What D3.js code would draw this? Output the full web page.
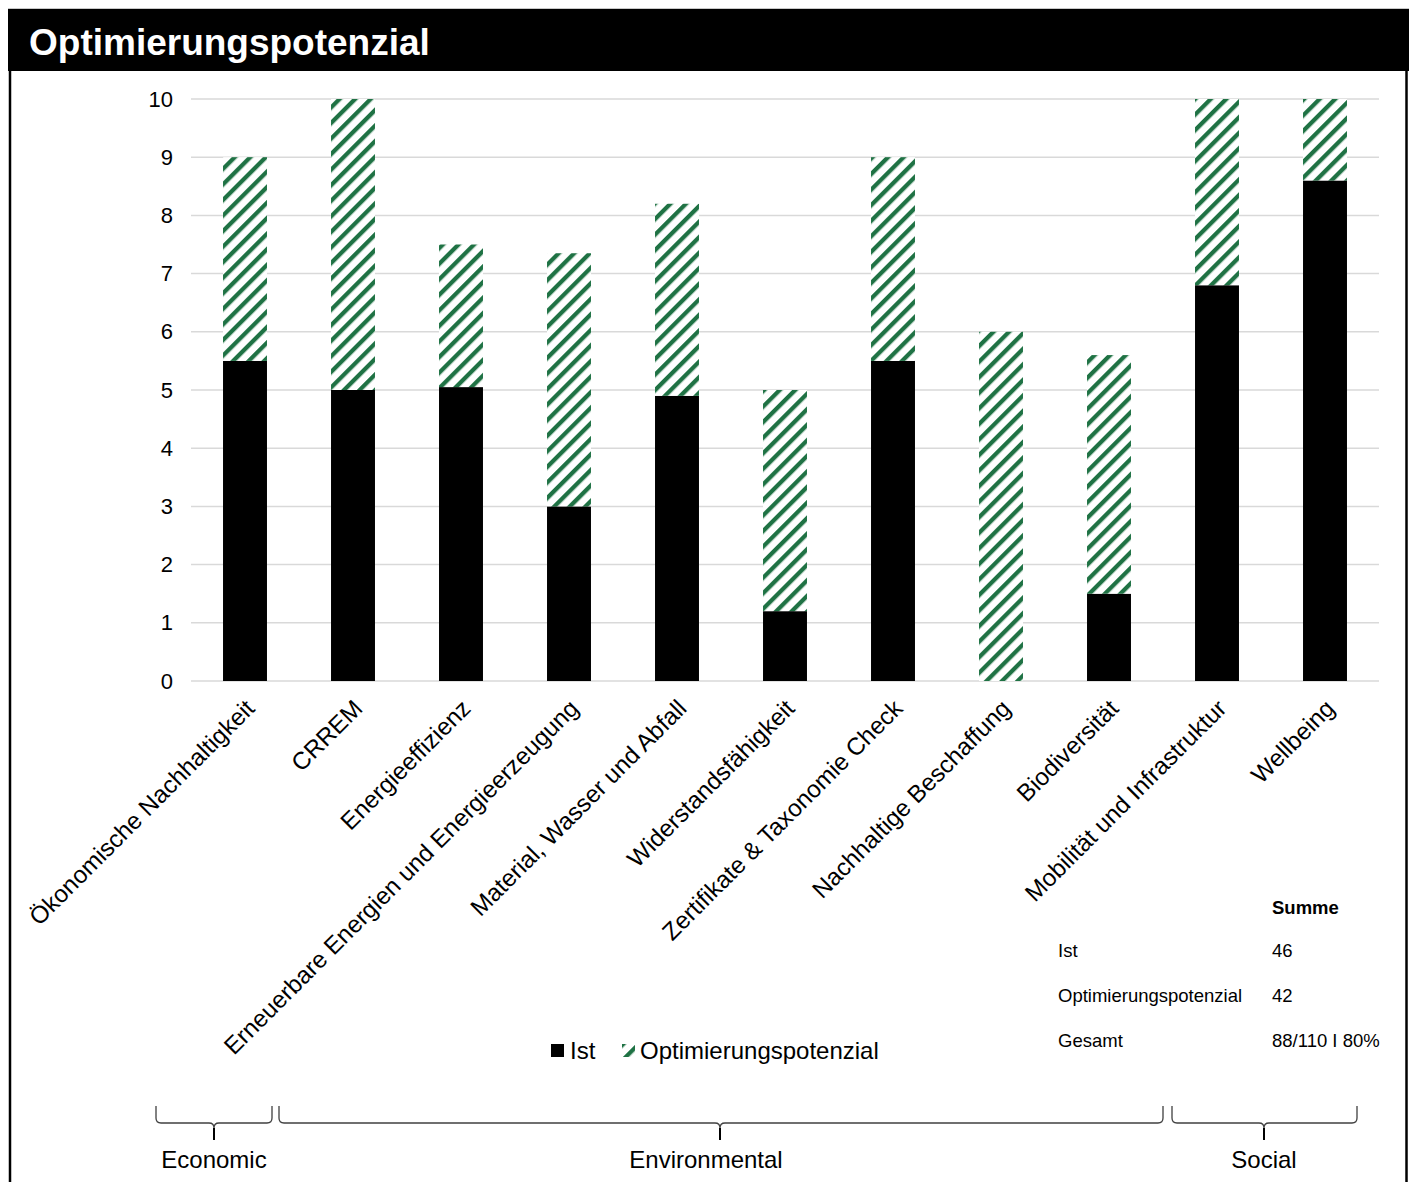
<!DOCTYPE html>
<html>
<head>
<meta charset="utf-8">
<script src="https://cdn.jsdelivr.net/npm/d3@7"></script>
<style>
  html, body { margin: 0; padding: 0; background: #fff; }
  svg { display: block; font-family: "Liberation Sans", Arial, sans-serif; }
</style>
</head>
<body>
<svg id="chart" width="1409" height="1182"></svg>
<script>
// Categories and stacked values (Ist + remaining potential up to the target)
const categories = [
  "Ökonomische Nachhaltigkeit", "CRREM", "Energieeffizienz",
  "Erneuerbare Energien und Energieerzeugung", "Material, Wasser und Abfall",
  "Widerstandsfähigkeit", "Zertifikate & Taxonomie Check", "Nachhaltige Beschaffung",
  "Biodiversität", "Mobilität und Infrastruktur", "Wellbeing"
];
const istValues = [5.5, 5, 5.05, 3, 4.9, 1.2, 5.5, 0, 1.5, 6.8, 8.6];
const optValues = [3.5, 5, 2.45, 4.35, 3.3, 3.8, 3.5, 6, 4.1, 3.2, 1.4];
const yTicks = [0, 1, 2, 3, 4, 5, 6, 7, 8, 9, 10];
const seriesNames = ["Ist", "Optimierungspotenzial"];

// ESG groups over the category axis
const groupNames = ["Economic", "Environmental", "Social"];

// Summary table
const summaryHeader = "Summe";
const summaryLabels = ["Ist", "Optimierungspotenzial", "Gesamt"];
const summaryValues = ["46", "42", "88/110 I 80%"];

const GREEN = "#1f7244";
const svg = d3.select("#chart");

// Frame and title bar
svg.append("rect").attr("x", 8).attr("y", 9).attr("width", 1401).attr("height", 62).attr("fill", "#000");
svg.append("line").attr("x1", 8).attr("x2", 1409).attr("y1", 8.5).attr("y2", 8.5).attr("stroke", "#c8c8c8").attr("stroke-width", 1);
svg.append("line").attr("x1", 10).attr("x2", 10).attr("y1", 71).attr("y2", 1182).attr("stroke", "#000").attr("stroke-width", 2.5);
svg.append("line").attr("x1", 1406.5).attr("x2", 1406.5).attr("y1", 71).attr("y2", 1182).attr("stroke", "#000").attr("stroke-width", 2.5);
svg.append("text").attr("x", 29).attr("y", 55).attr("fill", "#fff")
  .attr("font-size", 37).attr("font-weight", "bold").text("Optimierungspotenzial");

// Hatch pattern for the potential
const defs = svg.append("defs");
const pat = defs.append("pattern").attr("id", "hatch")
  .attr("patternUnits", "userSpaceOnUse").attr("width", 11).attr("height", 11)
  .attr("patternTransform", "rotate(45)");
pat.append("rect").attr("width", 11).attr("height", 11).attr("fill", "#fff");
pat.append("rect").attr("x", 0).attr("width", 4.3).attr("height", 11).attr("fill", GREEN);

// Scales
const plot = { left: 191, right: 1379, top: 99, bottom: 681 };
const x = d3.scaleBand().domain(categories).range([plot.left, plot.right]).paddingInner(0.593).paddingOuter(0.2965);
const y = d3.scaleLinear().domain([0, 10]).range([plot.bottom, plot.top]);

// Gridlines
svg.append("g").selectAll("line").data(yTicks).join("line")
  .attr("x1", plot.left).attr("x2", plot.right)
  .attr("y1", d => y(d)).attr("y2", d => y(d))
  .attr("stroke", "#d9d9d9").attr("stroke-width", 1.5);

// Y axis labels
const yAxis = d3.axisLeft(y).tickValues(yTicks).tickSize(0).tickPadding(18).tickFormat(d3.format("d"));
const gy = svg.append("g").attr("transform", `translate(${plot.left},0)`).call(yAxis);
gy.select(".domain").remove();
gy.selectAll("text").attr("font-size", 22).attr("fill", "#000")
  .attr("font-family", "'Liberation Sans', Arial, sans-serif");

// Stacked bars
const rows = categories.map((c, i) => ({ cat: c, ist: istValues[i], opt: optValues[i] }));
const stacked = d3.stack().keys(["ist", "opt"])(rows);
const fills = { ist: "#000", opt: "url(#hatch)" };
svg.append("g").selectAll("g").data(stacked).join("g")
  .attr("fill", d => fills[d.key])
  .selectAll("rect").data(d => d).join("rect")
  .attr("x", d => x(d.data.cat))
  .attr("width", x.bandwidth())
  .attr("y", d => y(d[1]))
  .attr("height", d => y(d[0]) - y(d[1]));

// Category labels, rotated
const xAxis = d3.axisBottom(x).tickSize(0).tickPadding(0);
const gx = svg.append("g").attr("transform", `translate(0,${plot.bottom})`).call(xAxis);
gx.select(".domain").remove();
gx.selectAll("text")
  .attr("font-size", 24.2).attr("fill", "#000")
  .attr("font-family", "'Liberation Sans', Arial, sans-serif")
  .attr("text-anchor", "end")
  .attr("transform", "translate(5,23) rotate(-45)")
  .attr("x", 0).attr("y", 0).attr("dy", "0.35em");

// Legend
const legend = svg.append("g").attr("transform", "translate(551,1051)");
legend.append("rect").attr("x", 0).attr("y", -7).attr("width", 13).attr("height", 13).attr("fill", "#000");
legend.append("text").attr("x", 19).attr("y", 0).attr("dy", "0.35em").attr("font-size", 24).text(seriesNames[0]);
legend.append("rect").attr("x", 71).attr("y", -7).attr("width", 13).attr("height", 13).attr("fill", "url(#hatch)");
legend.append("text").attr("x", 89).attr("y", 0).attr("dy", "0.35em").attr("font-size", 24).text(seriesNames[1]);

// Summary table
const tbl = svg.append("g");
tbl.append("text").attr("x", 1272).attr("y", 908).attr("dy", "0.35em")
  .attr("font-size", 18.5).attr("font-weight", "bold").text(summaryHeader);
summaryLabels.forEach((lab, i) => {
  const ty = 951 + i * 45;
  tbl.append("text").attr("x", 1058).attr("y", ty).attr("dy", "0.35em").attr("font-size", 18.5).text(lab);
  tbl.append("text").attr("x", 1272).attr("y", ty).attr("dy", "0.35em").attr("font-size", 18.5).text(summaryValues[i]);
});

// Group braces under the axis
const braces = [
  { name: groupNames[0], x0: 156, x1: 272, mid: 214, tx: 214 },
  { name: groupNames[1], x0: 279, x1: 1163, mid: 720, tx: 706 },
  { name: groupNames[2], x0: 1172, x1: 1357, mid: 1264, tx: 1264 }
];
const bTop = 1106, bLine = 1123, bTip = 1140, r = 5;
const bg = svg.append("g");
braces.forEach(b => {
  const p = d3.path();
  p.moveTo(b.x0, bTop);
  p.lineTo(b.x0, bLine - r);
  p.quadraticCurveTo(b.x0, bLine, b.x0 + r, bLine);
  p.lineTo(b.mid - r, bLine);
  p.quadraticCurveTo(b.mid, bLine, b.mid, bLine + r);
  p.quadraticCurveTo(b.mid, bLine, b.mid + r, bLine);
  p.lineTo(b.x1 - r, bLine);
  p.quadraticCurveTo(b.x1, bLine, b.x1, bLine - r);
  p.lineTo(b.x1, bTop);
  bg.append("path").attr("d", p.toString()).attr("fill", "none").attr("stroke", "#404040").attr("stroke-width", 1.3);
  bg.append("line").attr("x1", b.mid).attr("x2", b.mid).attr("y1", bLine + r).attr("y2", bTip)
    .attr("stroke", "#000").attr("stroke-width", 2);
  bg.append("text").attr("x", b.tx).attr("y", 1160).attr("dy", "0.35em")
    .attr("text-anchor", "middle").attr("font-size", 24).text(b.name);
});
</script>
</body>
</html>
